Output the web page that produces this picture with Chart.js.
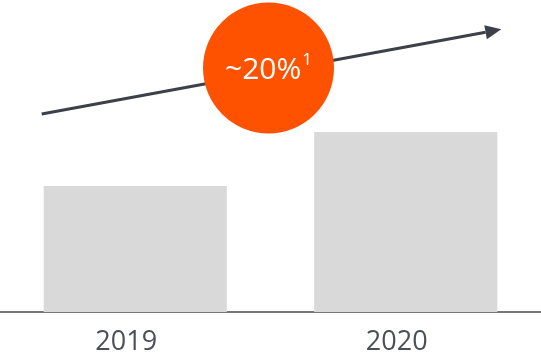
<!DOCTYPE html>
<html>
<head>
<meta charset="utf-8">
<script src="https://cdn.jsdelivr.net/npm/chart.js@4"></script>
<style>
  html, body { margin: 0; padding: 0; background: #fff; }
  #wrap { width: 541px; height: 354px; position: relative; }
</style>
</head>
<body>
<div id="wrap"><canvas id="growthChart"></canvas></div>
<script>
// chart data
const years = ['2019', '2020'];
const volumes = [70, 100];
// trend arrow: start / end level on the value axis
const trendLevels = [110, 157];
const badgeLevel = 135.5;
const badgeText = '~20%';
const badgeNote = '1';

const overlay = {
    id: 'trendOverlay',
    afterDatasetsDraw(chart) {
        const { ctx, scales: { y } } = chart;
        const meta = chart.getDatasetMeta(0);
        const first = meta.data[0], last = meta.data[1];

        // arrow from left edge of first bar to right edge of last bar
        const x0 = first.x - first.width / 2 - 2;
        const x1 = last.x + last.width / 2 + 4;
        const y0 = y.getPixelForValue(trendLevels[0]);
        const y1 = y.getPixelForValue(trendLevels[1]);
        const ang = Math.atan2(y1 - y0, x1 - x0);
        const headLen = 16, headW = 7;
        const bx = x1 - headLen * Math.cos(ang), by = y1 - headLen * Math.sin(ang);

        ctx.save();
        ctx.strokeStyle = '#3c4049';
        ctx.fillStyle = '#3c4049';
        ctx.lineWidth = 3;
        ctx.beginPath();
        ctx.moveTo(x0, y0);
        ctx.lineTo(bx, by);
        ctx.stroke();
        ctx.beginPath();
        ctx.moveTo(x1, y1);
        ctx.lineTo(bx + headW * Math.sin(ang), by - headW * Math.cos(ang));
        ctx.lineTo(bx - headW * Math.sin(ang), by + headW * Math.cos(ang));
        ctx.closePath();
        ctx.fill();

        // orange badge
        const cx = (first.x + last.x) / 2 - 2;
        const cy = y.getPixelForValue(badgeLevel);
        ctx.fillStyle = '#ff5200';
        ctx.beginPath();
        ctx.arc(cx, cy, 65.5, 0, Math.PI * 2);
        ctx.fill();

        ctx.fillStyle = '#ffffff';
        ctx.textBaseline = 'alphabetic';
        ctx.font = '400 30px "Open Sans"';
        const mainW = ctx.measureText(badgeText).width;
        ctx.font = '400 17px "Open Sans"';
        const noteW = ctx.measureText(badgeNote).width;
        const tx = cx - (mainW + noteW + 1) / 2;
        ctx.font = '400 30px "Open Sans"';
        ctx.textAlign = 'left';
        ctx.fillText(badgeText, tx, cy + 11);
        ctx.font = '400 17px "Open Sans"';
        ctx.fillText(badgeNote, tx + mainW + 1, cy - 3);
        ctx.restore();
    }
};

new Chart(document.getElementById('growthChart'), {
    type: 'bar',
    data: {
        labels: years,
        datasets: [{
            data: volumes,
            backgroundColor: '#d9d9d9',
            borderWidth: 0,
            barPercentage: 0.677,
            categoryPercentage: 1
        }]
    },
    options: {
        responsive: true,
        maintainAspectRatio: false,
        animation: false,
        layout: { padding: 0 },
        plugins: {
            legend: { display: false },
            tooltip: { enabled: false }
        },
        scales: {
            x: {
                grid: { display: false, drawTicks: false },
                border: { display: true, color: '#777777', width: 2 },
                ticks: {
                    color: '#4b4f58',
                    font: { family: 'Open Sans', size: 27 },
                    padding: 14,
                    labelOffset: -9
                },
                afterFit: scale => { scale.height = 42; }
            },
            y: {
                display: false,
                min: 0,
                max: 173.3
            }
        }
    },
    plugins: [overlay]
});
</script>
</body>
</html>
